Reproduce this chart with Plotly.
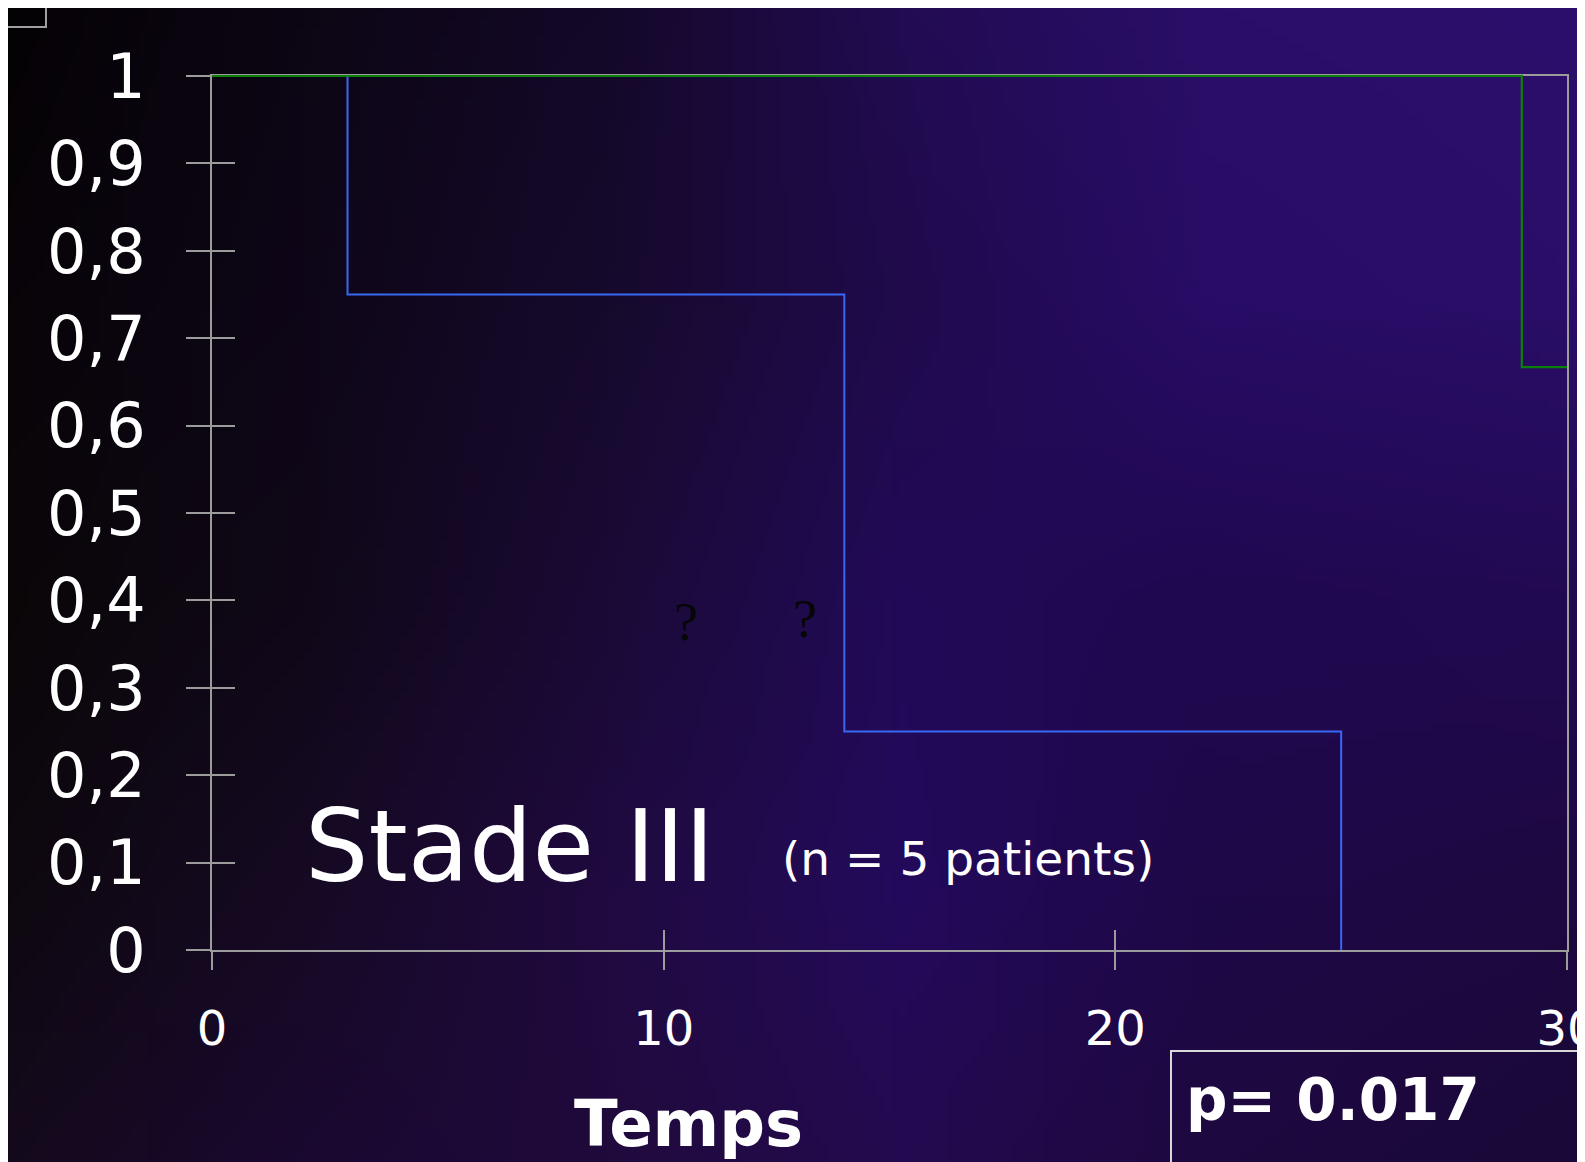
import base64
import struct
import zlib

import numpy as np
import plotly.graph_objects as go

# ---------------- data ----------------
blue_time = [0, 3, 14, 25]
blue_surv = [1.0, 0.75, 0.25, 0.0]
green_time = [0, 29, 30]
green_surv = [1.0, 0.667, 0.667]

y_tickvals = [0, 0.1, 0.2, 0.3, 0.4, 0.5, 0.6, 0.7, 0.8, 0.9, 1]
y_ticktext = ["0", "0,1", "0,2", "0,3", "0,4", "0,5", "0,6", "0,7", "0,8", "0,9", "1"]
x_tickvals = [0, 10, 20, 30]
x_ticktext = ["0", "10", "20", "30"]
X_RANGE = [0, 30]
Y_RANGE = [0, 1]

W, H = 1585, 1162
OFF = 8  # page body margin


def px(x):
    return (x - OFF) / W


def py(y):
    return 1 - (y - OFF) / H


# ---------------- background gradient image ----------------
bg_x = [0, 300, 600, 900, 1200, 1585]
bg_y = [0, 300, 600, 900, 1162]
bg_hex = [
    ["#050205", "#0c0614", "#140828", "#220c52", "#2a0e68", "#2c0f6c"],
    ["#080408", "#0e0618", "#160a2c", "#200a4c", "#280c66", "#2a0e68"],
    ["#0a0608", "#100818", "#1a0a36", "#220a58", "#200850", "#220a52"],
    ["#0e0810", "#160a24", "#200a40", "#240a5c", "#1e0848", "#1e0840"],
    ["#140a1c", "#1a0830", "#200a3c", "#240a50", "#1e0840", "#1a0838"],
]


def hex2rgb(h):
    return [int(h[i:i + 2], 16) for i in (1, 3, 5)]


grid = np.array([[hex2rgb(c) for c in row] for row in bg_hex], dtype=float)
iw, ih = 200, 147
gx = np.linspace(0, W, iw)
gy = np.linspace(0, H, ih)
tmp = np.zeros((len(bg_y), iw, 3))
for r in range(len(bg_y)):
    for ch in range(3):
        tmp[r, :, ch] = np.interp(gx, bg_x, grid[r, :, ch])
img = np.zeros((ih, iw, 3))
for c in range(iw):
    for ch in range(3):
        img[:, c, ch] = np.interp(gy, bg_y, tmp[:, c, ch])
img = np.clip(img, 0, 255).astype(np.uint8)


def png_uri(a):
    h, w, _ = a.shape
    raw = b"".join(b"\x00" + a[i].tobytes() for i in range(h))

    def chunk(tag, data):
        return struct.pack(">I", len(data)) + tag + data + struct.pack(">I", zlib.crc32(tag + data) & 0xffffffff)

    png = b"\x89PNG\r\n\x1a\n" + chunk(b"IHDR", struct.pack(">IIBBBBB", w, h, 8, 2, 0, 0, 0)) \
        + chunk(b"IDAT", zlib.compress(raw, 9)) + chunk(b"IEND", b"")
    return "data:image/png;base64," + base64.b64encode(png).decode()


# ---------------- geometry ----------------
FONT = "DejaVu Sans"
AXIS_COLOR = "#9c9c9c"
L, R, T, B = 212, 1567, 76, 950       # plot frame in page pixels
PAD = 12                              # extra room so edge-lying curves are not clipped
xu = (X_RANGE[1] - X_RANGE[0]) / (R - L)
yu = (Y_RANGE[1] - Y_RANGE[0]) / (B - T)

fig = go.Figure()
# invisible traces activating the frame subplot and its overlay (inside tick halves)
fig.add_trace(go.Scatter(x=X_RANGE, y=Y_RANGE, mode="lines", line=dict(color="rgba(0,0,0,0)", width=0),
                         hoverinfo="skip", showlegend=False))
fig.add_trace(go.Scatter(x=X_RANGE, y=Y_RANGE, mode="lines", line=dict(color="rgba(0,0,0,0)", width=0),
                         xaxis="x2", yaxis="y2", hoverinfo="skip", showlegend=False))
# survival curves on a slightly larger subplot with identical scale, drawn above the frame
fig.add_trace(go.Scatter(x=blue_time, y=blue_surv, mode="lines", line=dict(color="#3868f4", width=2, shape="hv"),
                         xaxis="x3", yaxis="y3", hoverinfo="skip", showlegend=False))
fig.add_trace(go.Scatter(x=green_time, y=green_surv, mode="lines", line=dict(color="#0b800b", width=2.2, shape="hv"),
                         xaxis="x3", yaxis="y3", hoverinfo="skip", showlegend=False))

fig.update_layout(
    width=W, height=H,
    margin=dict(l=0, r=0, t=0, b=0, pad=0, autoexpand=False),
    paper_bgcolor="#0a0510",
    plot_bgcolor="rgba(0,0,0,0)",
    showlegend=False,
    xaxis=dict(domain=[px(L), px(R)], range=X_RANGE, tickvals=x_tickvals, ticktext=x_ticktext, automargin=False,
               showline=True, linecolor=AXIS_COLOR, linewidth=2, mirror=True,
               ticks="outside", ticklen=18, tickwidth=2, tickcolor=AXIS_COLOR, ticklabeloverflow="allow",
               ticklabelstandoff=17, tickfont=dict(family=FONT, size=48, color="white"),
               showgrid=False, zeroline=False, fixedrange=True),
    yaxis=dict(domain=[py(B), py(T)], range=Y_RANGE, tickvals=y_tickvals, ticktext=y_ticktext, automargin=False,
               showline=True, linecolor=AXIS_COLOR, linewidth=2, mirror=True,
               ticks="outside", ticklen=24, tickwidth=2, tickcolor=AXIS_COLOR, ticklabeloverflow="allow",
               ticklabelstandoff=28, tickfont=dict(family=FONT, size=62, color="white"),
               showgrid=False, zeroline=False, fixedrange=True),
    xaxis2=dict(overlaying="x", anchor="y2", range=X_RANGE, tickvals=x_tickvals, showticklabels=False,
                ticks="inside", ticklen=20, tickwidth=2, tickcolor=AXIS_COLOR, showline=False, automargin=False,
                showgrid=False, zeroline=False, fixedrange=True),
    yaxis2=dict(overlaying="y", anchor="x2", range=Y_RANGE, tickvals=y_tickvals, showticklabels=False,
                ticks="inside", ticklen=23, tickwidth=2, tickcolor=AXIS_COLOR, showline=False, automargin=False,
                showgrid=False, zeroline=False, fixedrange=True),
    xaxis3=dict(domain=[px(L - PAD), px(R + PAD)], anchor="y3",
                range=[X_RANGE[0] - PAD * xu, X_RANGE[1] + PAD * xu], visible=False, fixedrange=True),
    yaxis3=dict(domain=[py(B + PAD), py(T - PAD)], anchor="x3",
                range=[Y_RANGE[0] - PAD * yu, Y_RANGE[1] + PAD * yu], visible=False, fixedrange=True),
    images=[dict(source=png_uri(img), xref="paper", yref="paper", x=px(0), y=py(0), sizex=1.0, sizey=1.0,
                 sizing="stretch", layer="below", xanchor="left", yanchor="top")],
)

annots = [
    dict(text="Stade III", x=px(509), y=py(846), font=dict(family=FONT, size=100, color="white")),
    dict(text="(n = 5 patients)", x=px(968), y=py(858), font=dict(family=FONT, size=47, color="white")),
    dict(text="<b>p= 0.017</b>", x=px(1333), y=py(1100), font=dict(family=FONT, size=58, color="white")),
    dict(text="<b>Temps</b>", x=px(688), y=py(1124), font=dict(family=FONT, size=64, color="white")),
    dict(text="?", x=px(686), y=py(622), font=dict(family="Liberation Serif", size=54, color="#060606")),
    dict(text="?", x=px(805), y=py(619), font=dict(family="Liberation Serif", size=54, color="#060606")),
]
for a in annots:
    fig.add_annotation(xref="paper", yref="paper", xanchor="center", yanchor="middle", showarrow=False, **a)

fig.add_shape(type="rect", xref="paper", yref="paper", x0=px(1171), x1=1.05, y0=py(1051), y1=-0.05,
              line=dict(color="#d8d8d8", width=2), fillcolor="rgba(0,0,0,0)")
fig.add_shape(type="rect", xref="paper", yref="paper", x0=-0.03, x1=px(46), y0=py(27), y1=1.03,
              line=dict(color="#a0a0a0", width=2), fillcolor="rgba(0,0,0,0)")

fig.write_html("out.html")
